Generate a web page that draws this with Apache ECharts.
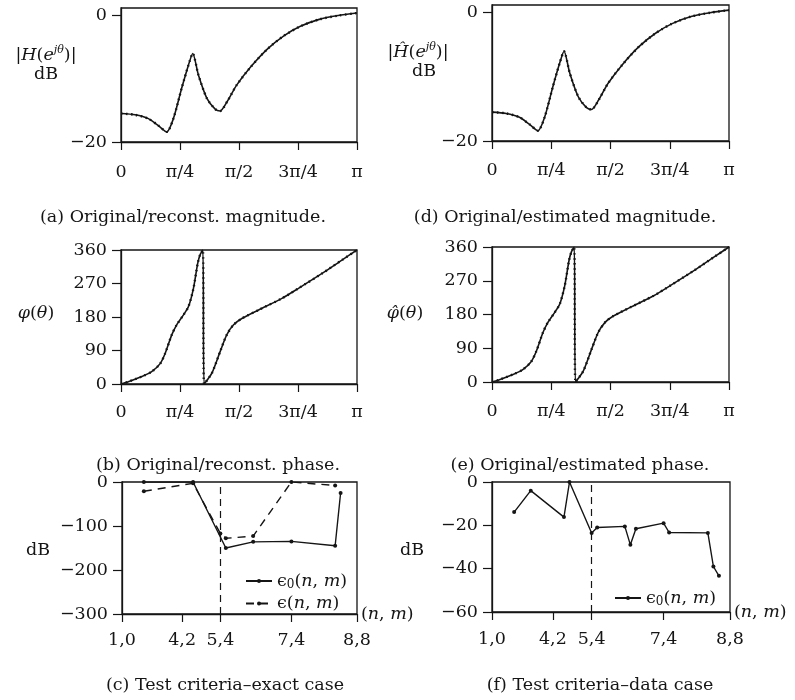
<!DOCTYPE html>
<html>
<head>
<meta charset="utf-8">
<script src="https://cdn.jsdelivr.net/npm/echarts@6/dist/echarts.min.js"></script>
<style>
html, body { margin: 0; padding: 0; background: #fff; }
#chart { width: 795px; height: 700px; }
</style>
</head>
<body>
<div id="chart"></div>
<script>
// frequency axis, in units of pi
var thetaTicks = [0, 0.25, 0.5, 0.75, 1];
var thetaLabels = ['0', 'π/4', 'π/2', '3π/4', 'π'];

// magnitude response (dB), original and reconstructed lie on top of each other
var magTheta = [0, 0.06, 0.116, 0.158, 0.194, 0.222, 0.257, 0.286, 0.304, 0.328, 0.364, 0.399, 0.42, 0.45, 0.49, 0.55, 0.62, 0.69, 0.76, 0.84, 0.92, 1.0];
var magDb = [-15.5, -15.7, -16.3, -17.4, -18.4, -16.3, -11.5, -7.8, -6.0, -9.4, -13.1, -14.8, -15.1, -13.6, -11.0, -8.1, -5.3, -3.2, -1.7, -0.6, 0.0, 0.4];
var magTicks = [-20, 0];

// phase response (degrees), wraps at 360
var phaseTheta = [0, 0.031, 0.088, 0.13, 0.165, 0.187, 0.215, 0.236, 0.264, 0.286, 0.307, 0.325, 0.335, 0.347, 0.352, 0.385, 0.42, 0.448, 0.477, 0.512, 0.583, 0.682, 0.752, 0.852, 0.936, 1.0];
var phaseDeg = [0, 6, 20, 33, 54, 82, 132, 159, 185, 208, 257, 324, 347, 360, 0, 29, 87, 132, 159, 176, 199, 230, 257, 297, 333, 360];
var phaseTicks = [0, 90, 180, 270, 360];

// (n,m) order index: pairs (1,0),(1,1),(2,0)... up to (8,8) -> 0..43
var pairTicks = [0, 11, 18, 31, 43];
var pairLabels = ['1,0', '4,2', '5,4', '7,4', '8,8'];

// test criteria, exact case
var exactIdx0 = [4, 13, 19, 24, 31, 39, 40];
var exactEps0 = [0, 0, -150, -136, -135, -145, -25];
var exactIdx = [4, 13, 18, 19, 24, 31, 39];
var exactEps = [-21, -3, -117, -128, -123, 0, -8];
var exactTicks = [-300, -200, -100, 0];

// test criteria, data case
var dataIdx0 = [4, 7, 13, 14, 18, 19, 24, 25, 26, 31, 32, 39, 40, 41];
var dataEps0 = [-13.9, -4.0, -16.2, 0, -23.5, -21, -20.5, -29, -21.6, -19, -23.3, -23.5, -39, -43.3];
var dataTicks = [-60, -40, -20, 0];

var ink = '#151515';
var serif = 'DejaVu Serif';
var fs = 17.5;
var rich = {
  i: { fontFamily: serif, fontSize: fs, fontStyle: 'italic', color: ink },
  sup: { fontFamily: serif, fontSize: 11, fontStyle: 'italic', color: ink, padding: [0, 0, 9, 0] },
  sub: { fontFamily: serif, fontSize: 12, color: ink, padding: [7, 0, 0, 0] }
};

function zip(xs, ys) {
  return xs.map(function (x, i) { return [x, ys[i]]; });
}
function minus(v) {
  return String(v).replace('-', '−');
}

var chart = echarts.init(document.getElementById('chart'));

var grids = [
  { left: 121, top: 8, width: 236, height: 134 },   // a
  { left: 121, top: 250, width: 236, height: 134 }, // b
  { left: 122, top: 482, width: 235, height: 132 }, // c
  { left: 492, top: 5, width: 237, height: 136 },   // d
  { left: 492, top: 247, width: 237, height: 135 }, // e
  { left: 492, top: 482, width: 238, height: 130 }  // f
].map(function (g) {
  g.show = true;
  g.borderColor = ink;
  g.borderWidth = 1.3;
  g.containLabel = false;
  g.outerBoundsMode = 'none';
  return g;
});

function xAxisFor(gi, ticks, labels, max, margin) {
  return {
    type: 'value', gridIndex: gi, min: 0, max: max,
    axisLine: { show: true, onZero: false, lineStyle: { color: ink, width: 1.3 } },
    axisTick: { show: true, length: 8, customValues: ticks, lineStyle: { color: ink, width: 1.2 } },
    axisLabel: {
      customValues: ticks, margin: margin, color: ink, fontFamily: serif, fontSize: fs,
      formatter: function (v) {
        var k = 0;
        ticks.forEach(function (t, j) { if (Math.abs(t - v) < Math.abs(ticks[k] - v)) k = j; });
        return labels[k];
      }
    },
    splitLine: { show: false }
  };
}
function yAxisFor(gi, ticks, min, max) {
  return {
    type: 'value', gridIndex: gi, min: min, max: max,
    axisLine: { show: true, lineStyle: { color: ink, width: 1.3 } },
    axisTick: { show: true, length: 9, customValues: ticks, lineStyle: { color: ink, width: 1.2 } },
    axisLabel: { customValues: ticks, margin: 14, color: ink, fontFamily: serif, fontSize: fs, formatter: minus },
    splitLine: { show: false }
  };
}

var xAxes = [
  xAxisFor(0, thetaTicks, thetaLabels, 1, 21),
  xAxisFor(1, thetaTicks, thetaLabels, 1, 19),
  xAxisFor(2, pairTicks, pairLabels, 43, 17),
  xAxisFor(3, thetaTicks, thetaLabels, 1, 20),
  xAxisFor(4, thetaTicks, thetaLabels, 1, 20),
  xAxisFor(5, pairTicks, pairLabels, 43, 18)
];
[2, 5].forEach(function (k) {
  xAxes[k].name = '({i|n}, {i|m})';
  xAxes[k].nameLocation = 'end';
  xAxes[k].nameGap = 4;
  xAxes[k].nameTextStyle = { color: ink, fontFamily: serif, fontSize: fs, rich: rich };
});

var yAxes = [
  yAxisFor(0, magTicks, -20, 1.2),
  yAxisFor(1, phaseTicks, 0, 360),
  yAxisFor(2, exactTicks, -300, 0),
  yAxisFor(3, magTicks, -20, 1.2),
  yAxisFor(4, phaseTicks, 0, 360),
  yAxisFor(5, dataTicks, -60, 0)
];

function curvePair(gi, xs, ys, tag) {
  return [{
    name: tag + ' original', type: 'line', xAxisIndex: gi, yAxisIndex: gi,
    data: zip(xs, ys), showSymbol: false, smooth: 0.25, silent: true,
    lineStyle: { color: ink, width: 1.6 }
  }, {
    name: tag + ' estimate', type: 'line', xAxisIndex: gi, yAxisIndex: gi,
    data: zip(xs, ys), showSymbol: false, smooth: 0.25, silent: true,
    lineStyle: { color: ink, width: 2.4, type: [1.5, 3.5] }
  }];
}

var splitMark = {
  silent: true, symbol: ['none', 'none'],
  label: { show: false },
  lineStyle: { color: ink, width: 1.2, type: [7, 5] },
  data: [{ xAxis: pairTicks[2] }]
};

var series = [].concat(
  curvePair(0, magTheta, magDb, 'a'),
  curvePair(1, phaseTheta, phaseDeg, 'b'),
  curvePair(3, magTheta, magDb, 'd'),
  curvePair(4, phaseTheta, phaseDeg, 'e'),
  [{
    name: 'c eps0', type: 'line', xAxisIndex: 2, yAxisIndex: 2,
    data: zip(exactIdx0, exactEps0), symbol: 'circle', symbolSize: 4,
    itemStyle: { color: ink }, lineStyle: { color: ink, width: 1.4 },
    markLine: splitMark
  }, {
    name: 'c eps', type: 'line', xAxisIndex: 2, yAxisIndex: 2,
    data: zip(exactIdx, exactEps), symbol: 'circle', symbolSize: 4,
    itemStyle: { color: ink }, lineStyle: { color: ink, width: 1.4, type: [8, 6] }
  }, {
    name: 'f eps0', type: 'line', xAxisIndex: 5, yAxisIndex: 5,
    data: zip(dataIdx0, dataEps0), symbol: 'circle', symbolSize: 4,
    itemStyle: { color: ink }, lineStyle: { color: ink, width: 1.4 },
    markLine: splitMark
  }]
);

var legendNames = {
  'c eps0': 'ϵ{sub|0}({i|n}, {i|m})',
  'c eps': 'ϵ({i|n}, {i|m})',
  'f eps0': 'ϵ{sub|0}({i|n}, {i|m})'
};
function legendAt(left, top, names) {
  return {
    left: left, top: top, orient: 'vertical', itemGap: 4,
    itemWidth: 26, itemHeight: 5, data: names, selectedMode: false,
    formatter: function (n) { return legendNames[n]; },
    textStyle: { color: ink, fontFamily: serif, fontSize: fs, rich: rich }
  };
}

function label(x, y, text, align) {
  return {
    type: 'text', x: x, y: y, silent: true,
    style: {
      text: text, fill: ink, font: fs + 'px "' + serif + '"',
      align: align || 'center', verticalAlign: 'middle', rich: rich
    }
  };
}

var graphics = [
  label(46, 55, '|{i|H}({i|e}{sup|jθ})|'),
  label(46, 74, 'dB'),
  label(36, 313, '{i|φ}({i|θ})'),
  label(38, 550, 'dB'),
  label(418, 52, '|{i|Ĥ}({i|e}{sup|jθ})|'),
  label(424, 71, 'dB'),
  label(405, 313, '{i|φ̂}({i|θ})'),
  label(412, 550, 'dB'),
  label(183, 217, '(a) Original/reconst. magnitude.'),
  label(218, 465, '(b) Original/reconst. phase.'),
  label(225, 685, '(c) Test criteria–exact case'),
  label(565, 217, '(d) Original/estimated magnitude.'),
  label(580, 465, '(e) Original/estimated phase.'),
  label(600, 685, '(f) Test criteria–data case')
];

chart.setOption({
  backgroundColor: '#fff',
  animation: false,
  grid: grids,
  xAxis: xAxes,
  yAxis: yAxes,
  legend: [
    legendAt(240, 567, ['c eps0', 'c eps']),
    legendAt(609, 584, ['f eps0'])
  ],
  series: series,
  graphic: graphics
});
</script>
</body>
</html>
